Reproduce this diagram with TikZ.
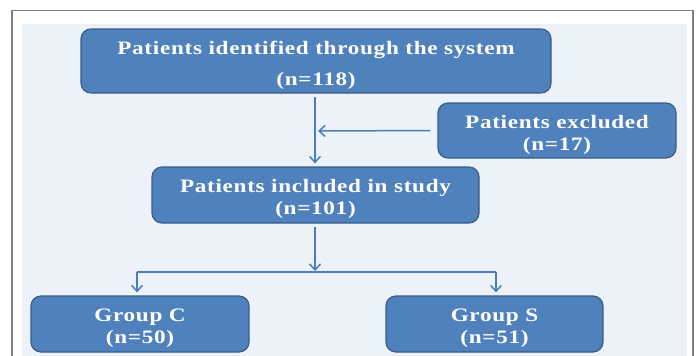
\documentclass[tikz,border=0pt]{standalone}
\usepackage{fontspec}
\setmainfont{Liberation Serif}
\usetikzlibrary{arrows.meta}
\definecolor{boxfill}{HTML}{4F81BD}
\definecolor{boxline}{HTML}{385D8A}
\definecolor{arrowc}{HTML}{4A7EBB}
\definecolor{bgc}{HTML}{EDF2F9}
\definecolor{framec}{HTML}{7F7F7F}
\newcommand{\wtxt}[1]{\scalebox{1.22}[1]{#1}}
\tikzset{
  flowbox/.style={draw=boxline, line width=1.2pt, fill=boxfill, rounded corners=10pt,
    inner sep=0pt, anchor=center},
  boxtext/.style={text=white, font=\fontsize{19}{22}\selectfont\bfseries\addfontfeature{LetterSpace=3},
    align=center, inner sep=0pt, yshift=-4pt},
  conn/.style={draw=arrowc, line width=1.5pt},
  arr/.style={conn, -{Straight Barb[length=6pt,width=11pt,line width=1.5pt]}}
}
\begin{document}
\begin{tikzpicture}[x=1pt,y=-1pt]
\useasboundingbox (0,0) rectangle (697,356);
\fill[white] (0,0) rectangle (697,356);
\draw[framec, line width=1.5pt] (12,360) -- (12,10.7) -- (693,10.7) -- (693,360);
\fill[bgc] (22,24) rectangle (687,360);

\node[flowbox, minimum width=470pt, minimum height=64pt,
  label={[boxtext]center:{\wtxt{Patients identified through the system}\\[9pt]\wtxt{(n=118)}}}] (ident) at (316,61) {};
\node[flowbox, minimum width=238pt, minimum height=55pt,
  label={[boxtext]center:{\wtxt{Patients excluded}\\\wtxt{(n=17)}}}] (excl) at (557,130.5) {};
\node[flowbox, minimum width=327pt, minimum height=56pt,
  label={[boxtext]center:{\wtxt{Patients included in study}\\\wtxt{(n=101)}}}] (incl) at (315.5,195) {};
\node[flowbox, minimum width=218pt, minimum height=56pt,
  label={[boxtext]center:{\wtxt{Group C}\\\wtxt{(n=50)}}}] (gc) at (140,324) {};
\node[flowbox, minimum width=217pt, minimum height=56pt,
  label={[boxtext]center:{\wtxt{Group S}\\\wtxt{(n=51)}}}] (gs) at (494.5,324) {};

\coordinate (join) at (315,131);
\coordinate (fork) at (315,272);
\coordinate (cleft) at (137,272);
\coordinate (cright) at (496,272);

\draw[arr, shorten <=3pt, shorten >=3pt] (ident.south -| join) -- (incl.north -| join);
\draw[arr, shorten <=7pt, shorten >=3pt] (excl.west) -- (join);
\draw[arr, shorten <=3pt, shorten >=1pt] (incl.south -| fork) -- (fork);
\draw[conn] (cleft) -- (cright);
\draw[arr, shorten >=3pt] (cleft) -- (cleft |- gc.north);
\draw[arr, shorten >=3pt] (cright) -- (cright |- gs.north);
\end{tikzpicture}
\end{document}
